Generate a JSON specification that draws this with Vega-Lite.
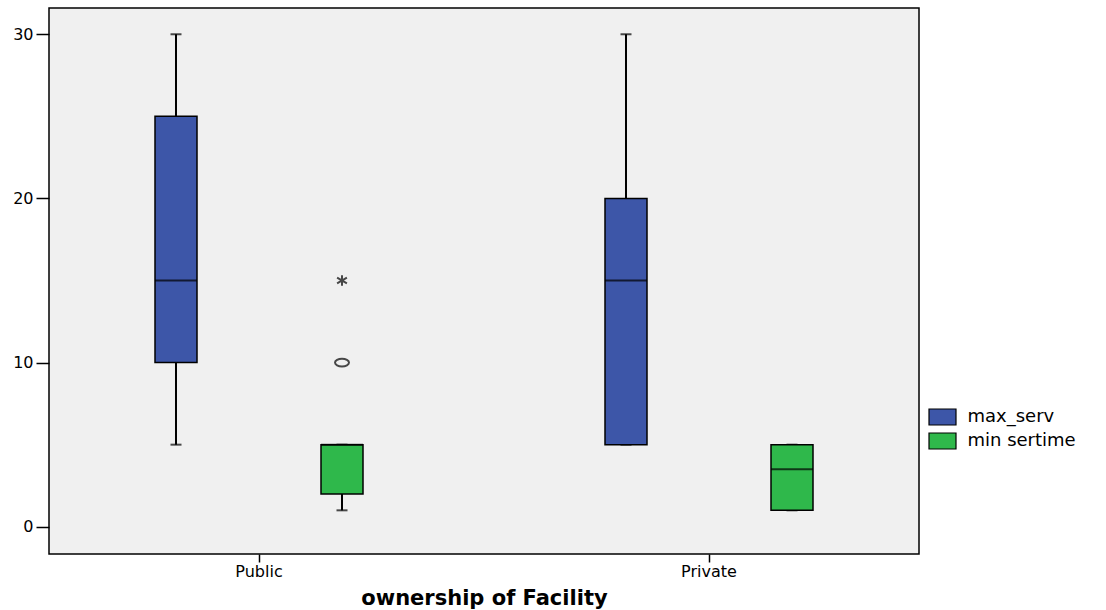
{
  "$schema": "https://vega.github.io/schema/vega-lite/v6.json",
  "autosize": "none",
  "padding": {"left": 49, "top": 8, "right": 187, "bottom": 56},
  "width": 870,
  "height": 546,
  "background": "#ffffff",
  "config": {
    "view": {"fill": "#F0F0F0", "stroke": "#000000", "strokeWidth": 1.5},
    "font": "DejaVu Sans",
    "axis": {"grid": false, "domain": false, "tickColor": "#000000", "tickWidth": 1.5, "labelColor": "#000000", "labelFont": "DejaVu Sans", "labelFontSize": 16, "titleColor": "#000000", "titleFont": "DejaVu Sans"}
  },
  "datasets": {
    "boxes": [
      {"group": "Public", "series": "max_serv", "lo": 5, "q1": 10, "med": 15, "q3": 25, "hi": 30},
      {"group": "Public", "series": "min sertime", "lo": 1, "q1": 2, "med": 5, "q3": 5, "hi": 5},
      {"group": "Private", "series": "max_serv", "lo": 5, "q1": 5, "med": 15, "q3": 20, "hi": 30},
      {"group": "Private", "series": "min sertime", "lo": 1, "q1": 1, "med": 3.5, "q3": 5, "hi": 5}
    ],
    "outliers": [
      {"group": "Public", "series": "min sertime", "value": 10, "kind": "outlier"},
      {"group": "Public", "series": "min sertime", "value": 15, "kind": "extreme"}
    ]
  },
  "encoding": {
    "x": {
      "field": "group", "type": "nominal",
      "scale": {"domain": ["Public", "Private"], "range": [-15, 885], "paddingInner": 0, "paddingOuter": 0},
      "axis": {"title": "ownership of Facility", "labelAngle": 0, "tickSize": 8, "labelPadding": 1, "titleFontSize": 21, "titleFontWeight": "bold", "titlePadding": 8, "labelFontSize": 16}
    },
    "xOffset": {
      "field": "series", "type": "nominal",
      "scale": {"domain": ["max_serv", "min sertime"], "range": [121, 329], "paddingInner": 0.747, "paddingOuter": 0}
    }
  },
  "layer": [
    {
      "data": {"name": "boxes"},
      "mark": {"type": "rule", "color": "#000000", "strokeWidth": 2},
      "encoding": {
        "y": {"field": "lo", "type": "quantitative", "scale": {"domain": [-1.66, 31.6], "nice": false, "zero": false}, "axis": {"values": [0, 10, 20, 30], "title": null, "tickSize": 13, "labelPadding": 3}},
        "y2": {"field": "hi"}
      }
    },
    {
      "data": {"name": "boxes"},
      "mark": {"type": "tick", "color": "#000000", "size": 11, "thickness": 2, "orient": "horizontal"},
      "encoding": {"y": {"field": "lo", "type": "quantitative"}}
    },
    {
      "data": {"name": "boxes"},
      "mark": {"type": "tick", "color": "#000000", "size": 11, "thickness": 2, "orient": "horizontal"},
      "encoding": {"y": {"field": "hi", "type": "quantitative"}}
    },
    {
      "data": {"name": "boxes"},
      "mark": {"type": "bar", "stroke": "#000000", "strokeWidth": 1.5, "opacity": 1},
      "encoding": {
        "y": {"field": "q1", "type": "quantitative"},
        "y2": {"field": "q3"},
        "color": {
          "field": "series", "type": "nominal",
          "scale": {"domain": ["max_serv", "min sertime"], "range": ["#3D56A8", "#2FB84B"]},
          "legend": {"title": null, "orient": "none", "legendX": 882.5, "legendY": 398, "labelFontSize": 18, "labelFont": "DejaVu Sans", "labelColor": "#000000", "symbolType": "M-1.35,-0.8H1.35V0.8H-1.35Z", "symbolSize": 400, "symbolStrokeColor": "#000000", "symbolStrokeWidth": 1.2, "symbolOpacity": 1, "rowPadding": 2, "labelOffset": 14}
        }
      }
    },
    {
      "data": {"name": "boxes"},
      "mark": {"type": "tick", "color": "#000000", "size": 42, "thickness": 2, "orient": "horizontal"},
      "encoding": {"y": {"field": "med", "type": "quantitative"}}
    },
    {
      "data": {"name": "outliers"},
      "mark": {"type": "point", "color": "#000000", "strokeWidth": 2, "filled": false, "size": 196},
      "encoding": {
        "y": {"field": "value", "type": "quantitative"},
        "shape": {
          "field": "kind", "type": "nominal",
          "scale": {"domain": ["outlier", "extreme"], "range": ["M-1,0A1,0.55 0 1,0 1,0A1,0.55 0 1,0 -1,0Z", "M0,-0.75L0,0.75M-0.7,-0.4L0.7,0.4M-0.7,0.4L0.7,-0.4"]},
          "legend": null
        }
      }
    }
  ]
}
